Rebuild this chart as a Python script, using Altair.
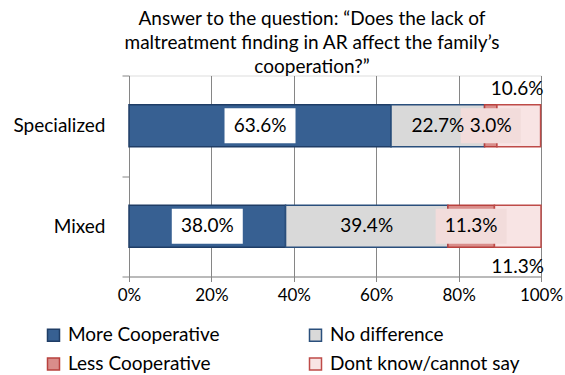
import altair as alt
import pandas as pd

# ---- data ----
groups = ["Specialized", "Mixed"]
categories = ["More Cooperative", "No difference", "Less Cooperative", "Dont know/cannot say"]
specialized = [63.6, 22.7, 3.0, 10.6]
mixed = [38.0, 39.4, 11.3, 11.3]
x_ticks = [0, 20, 40, 60, 80, 100]
title_lines = [
    "Answer to the question: \u201cDoes the lack of",
    "maltreatment finding in AR affect the family\u2019s",
    "cooperation?\u201d",
]

# ---- styles ----
FONT = "Lato"
FS = 19
W = 412
fills = ["#376092", "#d9d9d9", "#d98d8a", "#f8e4e4"]
strokes = ["#1f3d66", "#2a4f7c", "#b8413e", "#be4b48"]
GRID = "#868686"

rows = []
for g, vals in zip(groups, [specialized, mixed]):
    cum = 0.0
    for i, (c, v) in enumerate(zip(categories, vals)):
        rows.append(dict(group=g, category=c, value=v, order=i, start=cum,
                         end=cum + v, mid=cum + v / 2, label=f"{v:.1f}%"))
        cum += v
df = pd.DataFrame(rows)

y_enc = alt.Y(
    "group:N", sort=groups,
    scale=alt.Scale(domain=groups, paddingInner=0, paddingOuter=0),
    axis=alt.Axis(title=None, tickBand="extent", tickSize=7, labelPadding=17,
                  labelFont=FONT, labelFontSize=FS, labelColor="black",
                  domainColor=GRID, tickColor=GRID, grid=False),
)
x_enc = alt.X(
    "start:Q",
    scale=alt.Scale(domain=[0, 100], nice=False),
    axis=alt.Axis(title=None, values=x_ticks, labelExpr="datum.value + '%'",
                  grid=True, gridColor=GRID, gridOpacity=1, tickSize=5,
                  labelFlush=False, labelOverlap=False,
                  labelFont=FONT, labelFontSize=17, labelColor="black",
                  labelPadding=6, domainColor=GRID, tickColor=GRID),
)

leg = alt.Legend(orient="none", legendX=-85, legendY=250, columns=2,
                 direction="horizontal",
                 columnPadding=86, rowPadding=9, title=None,
                 symbolType="square", symbolSize=144, symbolStrokeWidth=1.5,
                 labelFont=FONT, labelFontSize=FS, labelColor="black",
                 labelOffset=5, labelLimit=400)

bars = alt.Chart(df).mark_bar(size=42, strokeWidth=1.5).encode(
    x=x_enc, x2="end:Q", y=y_enc,
    fill=alt.Fill("category:N", scale=alt.Scale(domain=categories, range=fills), legend=leg),
    stroke=alt.Stroke("category:N", scale=alt.Scale(domain=categories, range=strokes), legend=leg),
    order=alt.Order("order:Q"),
)

box_base = alt.Chart(df).transform_calculate(
    hw=f"(length(datum.label) * 11 + 16) / 2 / {W / 100}",
    b0="datum.mid - datum.hw",
    b1="datum.mid + datum.hw",
)
white_boxes = box_base.transform_filter("datum.order == 0").mark_bar(size=35).encode(
    x="b0:Q", x2="b1:Q", y=alt.Y("group:N", sort=groups), color=alt.value("white"))
pink_boxes = box_base.transform_filter("datum.order == 2").mark_bar(size=35).encode(
    x="b0:Q", x2="b1:Q", y=alt.Y("group:N", sort=groups), color=alt.value("#f2dcdb"))

inner_text = alt.Chart(df).transform_filter("datum.order < 3").mark_text(
    font=FONT, fontSize=FS, color="black", baseline="middle", align="center").encode(
    x="mid:Q", y=alt.Y("group:N", sort=groups), text="label:N")

outer_top = alt.Chart(df).transform_filter(
    "datum.order == 3 && datum.group == 'Specialized'").mark_text(
    font=FONT, fontSize=FS, color="black", baseline="middle", align="right", dx=3, dy=-37).encode(
    x=alt.X("end:Q"), y=alt.Y("group:N", sort=groups), text="label:N")
outer_bot = alt.Chart(df).transform_filter(
    "datum.order == 3 && datum.group == 'Mixed'").mark_text(
    font=FONT, fontSize=FS, color="black", baseline="middle", align="right", dx=3, dy=41).encode(
    x=alt.X("end:Q"), y=alt.Y("group:N", sort=groups), text="label:N")

chart = alt.layer(bars, white_boxes, pink_boxes, inner_text, outer_top, outer_bot).properties(
    width=W, height=201,
    autosize=alt.AutoSizeParams(type="none"),
    padding={"left": 129, "top": 75.5, "right": 565 - 129 - W, "bottom": 98.5},
    title=alt.Title(title_lines, font=FONT, fontSize=FS, fontWeight="normal",
                    lineHeight=24, anchor="middle", frame="group", dx=-23,
                    offset=-10, color="black"),
).configure_view(stroke=None).configure(background="white")

chart.save("out.html", embed_options={"renderer": "svg", "actions": False})
